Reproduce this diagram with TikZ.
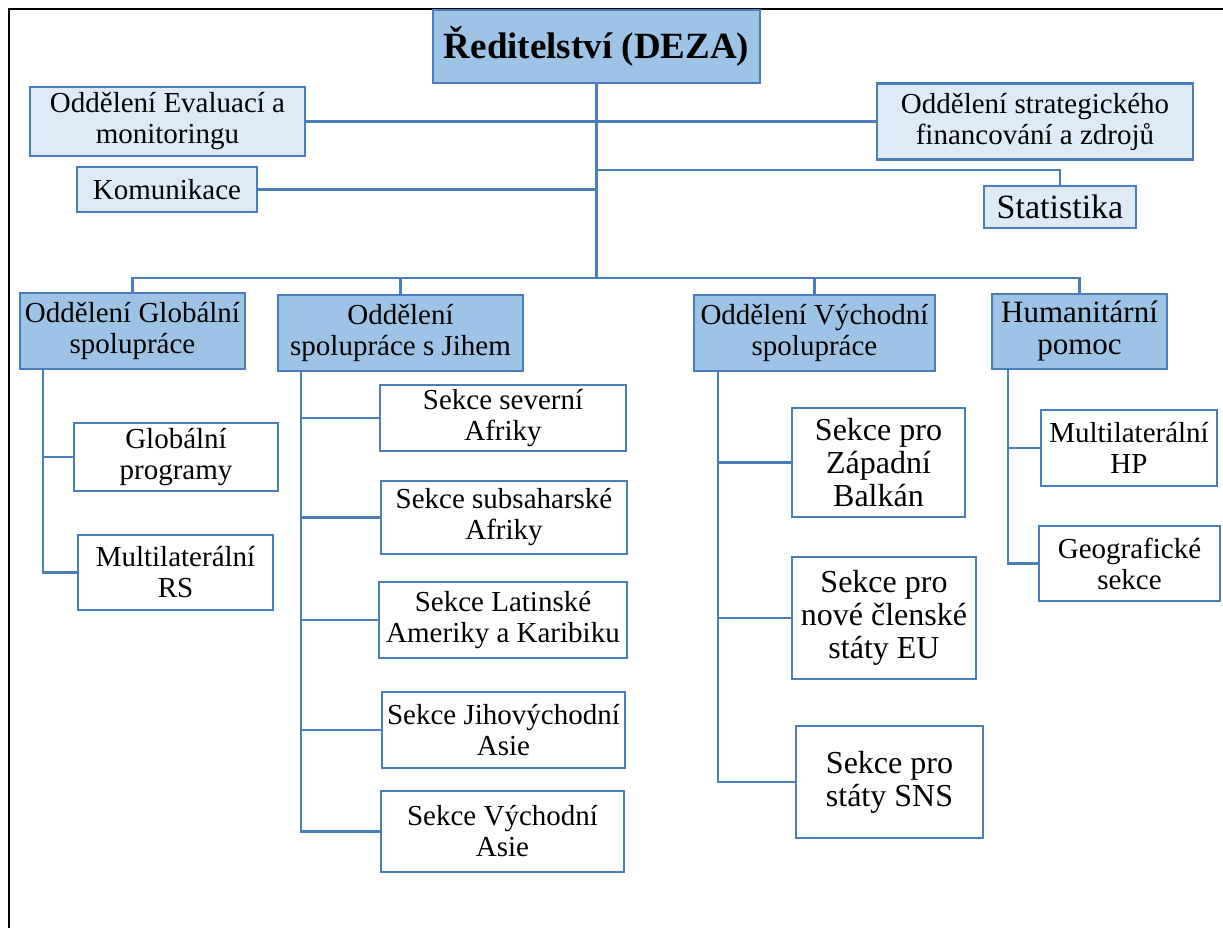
\documentclass[tikz,border=0pt]{standalone}
\usepackage{fontspec}
\setmainfont{Liberation Serif}
\definecolor{orgline}{HTML}{4A7EBB}
\definecolor{deptfill}{HTML}{9DC3E6}
\definecolor{stafffill}{HTML}{DEEBF7}
\begin{document}
\begin{tikzpicture}[x=1pt, y=-1pt,
    box/.style={draw=orgline, line width=2.5pt, inner sep=0pt, align=center, font=\fontsize{29}{31}\selectfont},
    dept/.style={box, fill=deptfill},
    staff/.style={box, fill=stafffill},
    sect/.style={box, fill=white},
    link/.style={draw=orgline, line width=2.5pt}]
    \useasboundingbox (0,0) rectangle (1223,928);
    \draw[line width=2pt] (9,928) -- (9,9) -- (1223,9);

    % top of the chart
    \node[dept, minimum width=327pt, minimum height=73pt, font=\fontsize{37}{40}\bfseries\selectfont] (dir) at (596.5,46.5) {Ředitelství (DEZA)};
    \node[staff, minimum width=275pt, minimum height=69pt] (eval) at (167.5,121.5) {Oddělení Evaluací a\\monitoringu};
    \node[staff, minimum width=180pt, minimum height=45pt] (kom) at (167,189.5) {Komunikace};
    \node[staff, minimum width=316pt, minimum height=76pt] (fin) at (1035,121.5) {Oddělení strategického\\financování a zdrojů};
    \node[staff, minimum width=152pt, minimum height=42pt, font=\fontsize{34}{36}\selectfont] (stat) at (1060,207) {Statistika};

    % departments
    \node[dept, minimum width=225pt, minimum height=76pt] (glob) at (132.5,331) {Oddělení Globální\\spolupráce};
    \node[dept, minimum width=245pt, minimum height=76pt] (jih) at (400.5,333) {Oddělení\\spolupráce s Jihem};
    \node[dept, minimum width=241pt, minimum height=76pt] (vych) at (814.5,333) {Oddělení Východní\\spolupráce};
    \node[dept, minimum width=175pt, minimum height=75pt, font=\fontsize{31}{32}\selectfont] (hum) at (1079.5,331.5) {Humanitární\\pomoc};

    % sections
    \node[sect, minimum width=204pt, minimum height=68pt] (gprog) at (176,457) {Globální\\programy};
    \node[sect, minimum width=195pt, minimum height=75pt] (mrs) at (175.5,572.5) {Multilaterální\\RS};
    \node[sect, minimum width=246pt, minimum height=66pt] (sev) at (503,418) {Sekce severní\\Afriky};
    \node[sect, minimum width=246pt, minimum height=73pt] (sub) at (504,517.5) {Sekce subsaharské\\Afriky};
    \node[sect, minimum width=248pt, minimum height=76pt] (lat) at (503,620) {Sekce Latinské\\Ameriky a Karibiku};
    \node[sect, minimum width=243pt, minimum height=76pt] (jv) at (503.5,730) {Sekce Jihovýchodní\\Asie};
    \node[sect, minimum width=243pt, minimum height=81pt] (va) at (502.5,831.5) {Sekce Východní\\Asie};
    \node[sect, minimum width=173pt, minimum height=109pt, font=\fontsize{32}{33}\selectfont] (zb) at (878.5,462.5) {Sekce pro\\Západní\\Balkán};
    \node[sect, minimum width=184pt, minimum height=122pt, font=\fontsize{32}{33}\selectfont] (eu) at (884,618) {Sekce pro\\nové členské\\státy EU};
    \node[sect, minimum width=187pt, minimum height=112pt, font=\fontsize{32}{33}\selectfont] (sns) at (889.5,782) {Sekce pro\\státy SNS};
    \node[sect, minimum width=176pt, minimum height=76pt] (mhp) at (1129,448) {Multilaterální\\HP};
    \node[sect, minimum width=181pt, minimum height=75pt] (geo) at (1129.5,563.5) {Geografické\\sekce};

    % connectors
    \coordinate (bus) at (596.5,278);
    \coordinate (statj) at (596.5,170);
    \draw[link] (dir.south) -- (bus);
    \draw[link] (eval.east) -- (eval.east -| fin.west);
    \draw[link] (kom.east) -- (kom.east -| dir.south);
    \draw[link] (statj) -| (stat.north);
    \draw[link] (glob.north) |- (bus) -| (hum.north);
    \foreach \d in {jih,vych}
        \draw[link] (\d.north) -- (\d.north |- bus);

    \draw[link] ([xshift=24pt]glob.south west) coordinate (gt) |- (mrs.west);
    \draw[link] (gt |- gprog.west) -- (gprog.west);
    \draw[link] ([xshift=24pt]jih.south west) coordinate (jt) |- (va.west);
    \foreach \s in {sev,sub,lat,jv}
        \draw[link] (jt |- \s.west) -- (\s.west);
    \draw[link] ([xshift=25pt]vych.south west) coordinate (vt) |- (sns.west);
    \foreach \s in {zb,eu}
        \draw[link] (vt |- \s.west) -- (\s.west);
    \draw[link] ([xshift=17pt]hum.south west) coordinate (ht) |- (geo.west);
    \draw[link] (ht |- mhp.west) -- (mhp.west);
\end{tikzpicture}
\end{document}
